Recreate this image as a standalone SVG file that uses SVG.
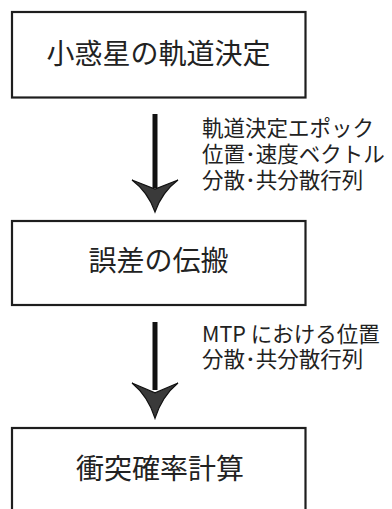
<svg xmlns="http://www.w3.org/2000/svg" width="392" height="509" viewBox="0 0 392 509">
<style>
.box{fill:#fff;stroke:#1e1e1e;stroke-width:2.2}
.title{font-family:"Noto Sans CJK JP","Noto Sans CJK SC",sans-serif;font-size:28px;fill:#222;text-anchor:middle}
.lbl{font-family:"Noto Sans CJK JP","Noto Sans CJK SC",sans-serif;font-size:21.5px;fill:#222}
.shaft{stroke:#111;stroke-width:5;fill:none}
.head{fill:#3a3a3a;stroke:#111;stroke-width:1.2;stroke-linejoin:miter}
</style>
<defs>
<path id="arrowhead" d="M-23,0 L0,9 L23,0 Q7,12 0,32 Q-7,12 -23,0 Z"/>
</defs>
<rect width="392" height="509" fill="#fff"/>
<g id="node-orbit">
<rect class="box" x="12" y="12" width="293.5" height="85.5"/>
<text class="title" x="158.5" y="64">小惑星の軌道決定</text>
</g>
<g id="node-propagation">
<rect class="box" x="12" y="221" width="293.5" height="84"/>
<text class="title" x="158.5" y="271">誤差の伝搬</text>
</g>
<g id="node-probability">
<rect class="box" x="12" y="428" width="293.5" height="100"/>
<text class="title" x="160" y="479">衝突確率計算</text>
</g>
<g id="connectors">
<g id="edge-1">
<line class="shaft" x1="155" y1="114" x2="155" y2="188"/>
<use href="#arrowhead" class="head" transform="translate(155,180)"/>
<text class="lbl" x="202" y="136">軌道決定エポック</text>
<text class="lbl" x="202" y="162">位置･速度ベクトル</text>
<text class="lbl" x="202" y="188">分散･共分散行列</text>
</g>
<g id="edge-2">
<line class="shaft" x1="155" y1="322" x2="155" y2="390"/>
<use href="#arrowhead" class="head" transform="translate(155,383) scale(1,1.1)"/>
<text class="lbl" x="202" y="342">MTP における位置</text>
<text class="lbl" x="202" y="367">分散･共分散行列</text>
</g>
</g>
</svg>
